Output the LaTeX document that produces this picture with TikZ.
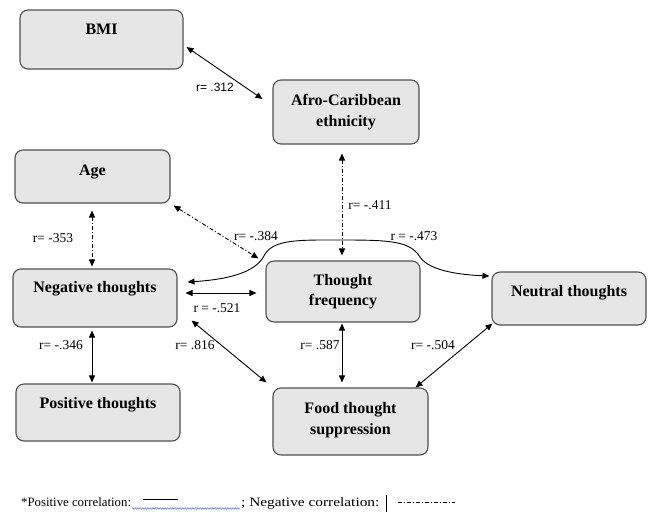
\documentclass[tikz,border=0pt]{standalone}
\usepackage{graphicx}
\usepackage{fontspec}
\setmainfont{Liberation Serif}
\newfontfamily\arialfont{Liberation Sans}
\usetikzlibrary{arrows.meta,decorations.pathmorphing}
\definecolor{boxfill}{HTML}{E6E6E6}
\definecolor{boxline}{HTML}{505050}
\definecolor{wavyblue}{HTML}{4A6FD8}
\begin{document}
\begin{tikzpicture}[x=1pt,y=-1pt,
  box/.style={draw=boxline, fill=boxfill, line width=1.1pt, rounded corners=8pt,
    inner sep=0pt, font=\fontsize{16}{20.5}\selectfont\bfseries, align=center},
  rlab/.style={font=\fontsize{13.5}{15}\selectfont, inner sep=0pt},
  legendtext/.style={font=\fontsize{12.8}{15}\selectfont, inner sep=0pt, anchor=base west},
  poscor/.style={line width=0.9pt, {Triangle[length=7pt,width=6pt]}-{Triangle[length=7pt,width=6pt]}},
  negcor/.style={poscor, dash pattern=on 4pt off 2pt on 1pt off 2pt},
]
\useasboundingbox (0,0) rectangle (648,512);

% boxes
\node[box, minimum width=163pt, text height=24pt, text depth=35pt] (bmi) at (101.5,39.5) {BMI};
\node[box, minimum width=146pt, minimum height=64pt] (afro) at (346,112) {Afro-Caribbean\\ethnicity};
\node[box, minimum width=155pt, text height=25pt, text depth=28pt] (age) at (92.5,176.5) {Age};
\node[box, minimum width=164pt, text height=23pt, text depth=35pt] (negth) at (95,298) {Negative thoughts};
\node[box, minimum width=154pt, minimum height=61pt] (tf) at (343,291.5) {Thought\\frequency};
\node[box, minimum width=154pt, text height=24pt, text depth=29pt] (neu) at (569,298.5) {Neutral thoughts};
\node[box, minimum width=164pt, text height=24pt, text depth=33pt] (posth) at (98,412.5) {Positive thoughts};
\node[box, minimum width=155pt, minimum height=67pt] (food) at (350.5,421.5) {Food thought\\suppression\\[-14pt]\mbox{}};

% connectors
\draw[poscor] ([shift={(3,7.5)}]bmi.east) -- ([shift={(-10,-13)}]afro.west);
\draw[negcor] ([shift={(-4,9)}]afro.south) -- ([shift={(-1,-5)}]tf.north);
\draw[negcor] ([shift={(-0.5,7)}]age.south) -- ([shift={(-3,-2)}]negth.north);
\draw[negcor] ([shift={(3,2)}]age.south east) -- ([shift={(-7,-2)}]tf.north west);
\draw[poscor] ([shift={(10,-16)}]negth.east) .. controls (235,279) and (258,270) .. (265,254)
  .. controls (275,239) and (300,240) .. (342,240)
  .. controls (390,240) and (410,241) .. (420,257)
  .. controls (430,272) and (465,275) .. ([shift={(-2,-22.5)}]neu.west);
\draw[poscor] ([shift={(8,-5)}]negth.east) -- ([shift={(-9,1.5)}]tf.west);
\draw[poscor] ([shift={(14,-7)}]negth.south east) -- ([shift={(-6,-5)}]food.north west);
\draw[poscor] ([shift={(-1,1)}]tf.south) -- ([shift={(-8.5,-5)}]food.north);
\draw[poscor] ([shift={(1,-2)}]neu.south west) -- ([shift={(-13,0)}]food.north east);
\draw[poscor] ([shift={(-3,3)}]negth.south) -- ([shift={(-6,-1)}]posth.north);

% labels
\node[rlab, font=\arialfont\fontsize{12}{14}\selectfont] (l1) at (215,87) {r= .312};
\node[rlab] (l2) at (370,205) {r= -.411};
\node[rlab] (l3) at (53,238) {r= -353};
\node[rlab] (l4) at (256,236.5) {r= -.384};
\node[rlab] (l5) at (414,236.5) {r = -.473};
\node[rlab] (l6) at (217,308) {r = -.521};
\node[rlab] (l7) at (61,345) {r= -.346};
\node[rlab] (l8) at (195,345) {r= .816};
\node[rlab] (l9) at (320,345) {r= .587};
\node[rlab] (l10) at (433,345) {r= -.504};

% legend
\node[legendtext] (leg1) at (21,506) {*Positive correlation:};
\draw[line width=0.8pt] (143,499) -- (178,499);
\draw[wavyblue, line width=0.5pt, decorate, decoration={snake, amplitude=0.8pt, segment length=2.5pt}] (132,508.5) -- (240,508.5);
\node[legendtext] (leg2) at (241,506) {\scalebox{1.2}[1]{; Negative correlation:}};
\draw[line width=0.6pt] (386,495) -- (386,512);
\draw[line width=0.6pt, dash pattern=on 4pt off 2pt on 1pt off 2pt] (398,502) -- (455,502);
\end{tikzpicture}
\end{document}
